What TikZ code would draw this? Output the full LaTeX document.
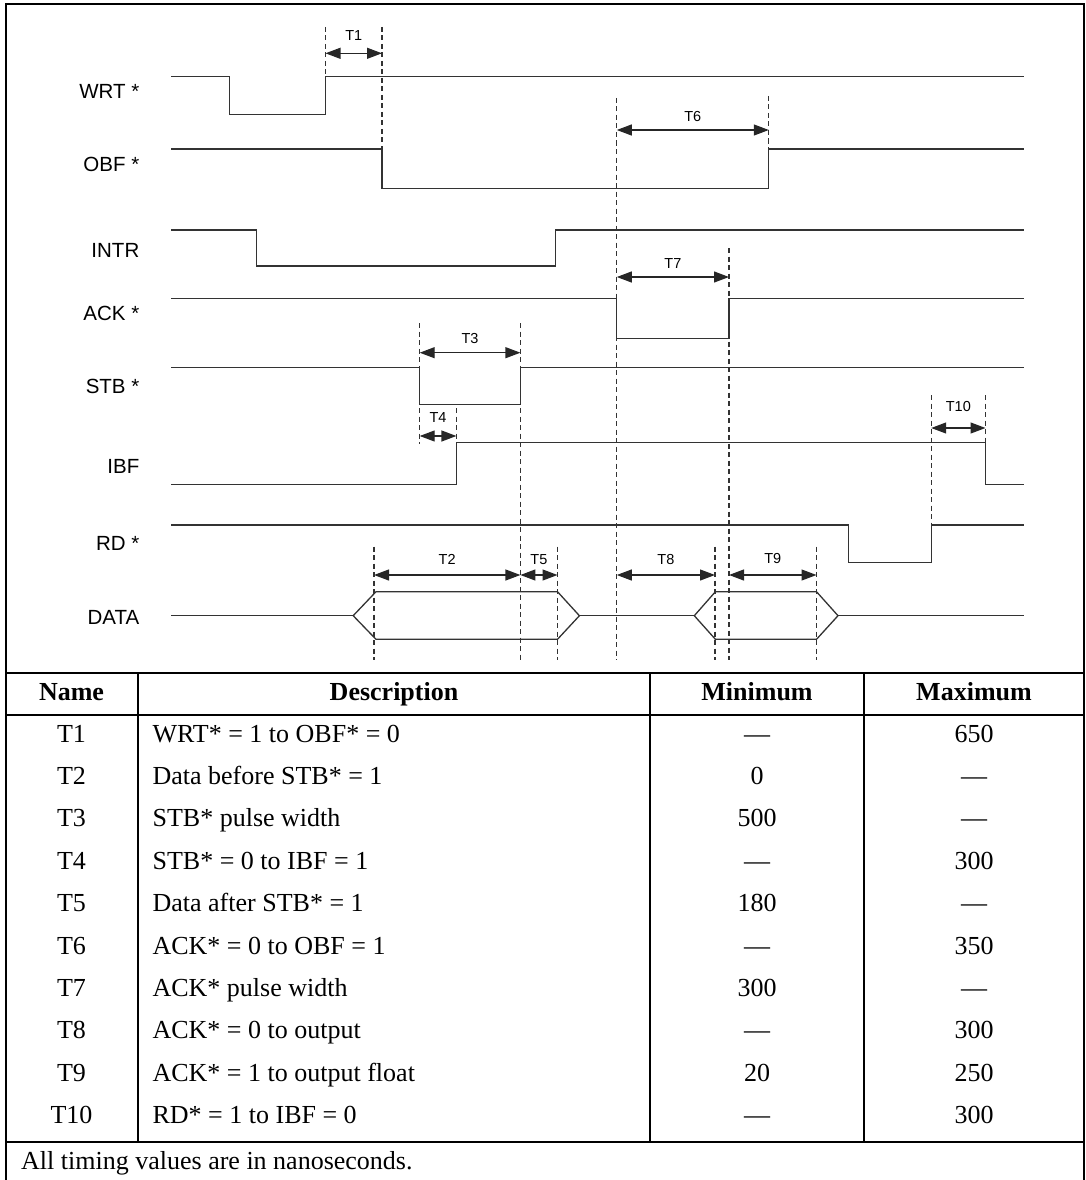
\documentclass[tikz,border=0pt]{standalone}
\usepackage{fontspec}
\setmainfont{Liberation Serif}
\newfontfamily\sigfont{Liberation Sans}
\usetikzlibrary{arrows.meta}

\begin{document}
\begin{tikzpicture}[x=1pt, y=-1pt,
    wave/.style={line width=1.3pt, black!80},
    guide/.style={line width=1.1pt, black!80, dash pattern=on 5pt off 3.5pt},
    dim/.style={line width=1.2pt, black!85,
      {Triangle[length=15pt,width=11pt]}-{Triangle[length=15pt,width=11pt]}},
    rule/.style={line width=2.2pt},
    siglbl/.style={font=\sigfont\fontsize{20.5}{24}\selectfont, anchor=base east, inner sep=0pt},
    tlbl/.style={font=\sigfont\fontsize{14.5}{17}\selectfont, anchor=base, inner sep=0pt},
    hdr/.style={font=\fontsize{26}{30}\selectfont\bfseries, anchor=base, inner sep=0pt},
    cell/.style={font=\fontsize{26}{30}\selectfont, anchor=base, inner sep=0pt}]
    % y runs downwards, 1 unit = 1 px of the 1086 x 1180 frame
    \useasboundingbox (0,0) rectangle (1086,1180);

    % ===== ZONE 1: timing diagram =====
    % signal: label, label baseline, start level, toggled level, edges
    \foreach \nm/\txt/\ly/\ya/\yb/\xa/\xb in {
        wrt/WRT */98.3/76.7/114.3/229.6/325.5,
        obf/OBF */171.7/149/188.7/382/768.8,
        intr/INTR/257.3/230/266/256.6/555.8,
        ack/ACK */320.7/298.3/338.3/616.8/729,
        stb/STB */393.3/367.7/404.7/419.7/520.4,
        ibf/IBF/473.3/484.5/442.7/456.4/985.5,
        rd/RD */550/525/562.3/848.4/931.2} {
      \node[siglbl] (sig-\nm) at (139.5, \ly) {\txt};
      \draw[wave] (171.4, \ya) -- (\xa, \ya) -- (\xa, \yb) -- (\xb, \yb)
        -- (\xb, \ya) -- (1023.6, \ya);
    }

    % DATA bus: two valid windows
    \node[siglbl] (sig-data) at (139.5, 624) {DATA};
    \draw[wave] (171.4, 615.7) -- (353.2, 615.7);
    \draw[wave] (353.2, 615.7) -- (376, 591.7) -- (557.5, 591.7) -- (579.4, 615.7)
      -- (557.5, 639.3) -- (376, 639.3) -- cycle;
    \draw[wave] (579.4, 615.7) -- (694.3, 615.7);
    \draw[wave] (694.3, 615.7) -- (715.4, 591.7) -- (816.5, 591.7) -- (838, 615.7)
      -- (816.5, 639.3) -- (715.4, 639.3) -- cycle;
    \draw[wave] (838, 615.7) -- (1023.6, 615.7);

    % dashed guides: x, top, bottom
    \foreach \xx/\ya/\yb in {325.5/27/76.7, 382/27/149, 616.8/98/660, 768.8/96/149,
        729/248/660, 419.7/323/444, 520.4/323/660, 456.4/408/442.7,
        931.2/395/525, 985.5/395/442.7, 374/546.7/660, 557.5/546.7/660,
        715/546.7/660, 816.5/546.7/660} {
      \draw[guide] (\xx, \ya) -- (\xx, \yb);
    }

    % timing arrows: name, from, to, arrow y, label baseline
    \foreach \nm/\xa/\xb/\yy/\yl in {T1/325.5/382/53.3/40.7, T6/616.8/768.8/130/121.7,
        T7/616.8/729/277/268.7, T3/419.7/520.4/352.7/343.3, T4/419.7/456.4/436/422.7,
        T10/931.2/985.5/428/411.7, T2/374/520.4/575/564, T5/520.4/557.5/575/564,
        T8/616.8/715/575/564, T9/729/816.5/575/563.5} {
      \draw[dim] (\xa, \yy) -- (\xb, \yy);
      \node[tlbl] (lbl-\nm) at ({(\xa+\xb)/2}, \yl) {\nm};
    }

    % ===== ZONE 2: table =====
    \draw[rule] (6,1180) -- (6,4) -- (1084,4) -- (1084,1180);
    \draw[rule] (6,673) -- (1084,673);
    \draw[rule] (6,715) -- (1084,715);
    \draw[rule] (6,1142) -- (1084,1142);
    \draw[rule] (137.7,673) -- (137.7,1142);
    \draw[rule] (650,673) -- (650,1142);
    \draw[rule] (864,673) -- (864,1142);

    \node[hdr] (hd-name) at (71.5, 700.5) {Name};
    \node[hdr] (hd-desc) at (394, 700.5) {Description};
    \node[hdr] (hd-min)  at (757, 700.5) {Minimum};
    \node[hdr] (hd-max)  at (974, 700.5) {Maximum};

    \foreach \idx/\nm/\desc/\mn/\mx in {
        0/T1/WRT* = 1 to OBF* = 0/---/650,
        1/T2/Data before STB* = 1/0/---,
        2/T3/STB* pulse width/500/---,
        3/T4/STB* = 0 to IBF = 1/---/300,
        4/T5/Data after STB* = 1/180/---,
        5/T6/ACK* = 0 to OBF = 1/---/350,
        6/T7/ACK* pulse width/300/---,
        7/T8/ACK* = 0 to output/---/300,
        8/T9/ACK* = 1 to output float/20/250,
        9/T10/RD* = 1 to IBF = 0/---/300} {
      \node[cell] (name\idx) at (71.5, {742+\idx*42.4}) {\nm};
      \node[cell, anchor=base west] (desc\idx) at (152.4, {742+\idx*42.4}) {\desc};
      \node[cell] (min\idx) at (757, {742+\idx*42.4}) {\mn};
      \node[cell] (max\idx) at (974, {742+\idx*42.4}) {\mx};
    }

    \node[cell, anchor=base west] (note) at (21, 1169) {All timing values are in nanoseconds.};

  \end{tikzpicture}
\end{document}
